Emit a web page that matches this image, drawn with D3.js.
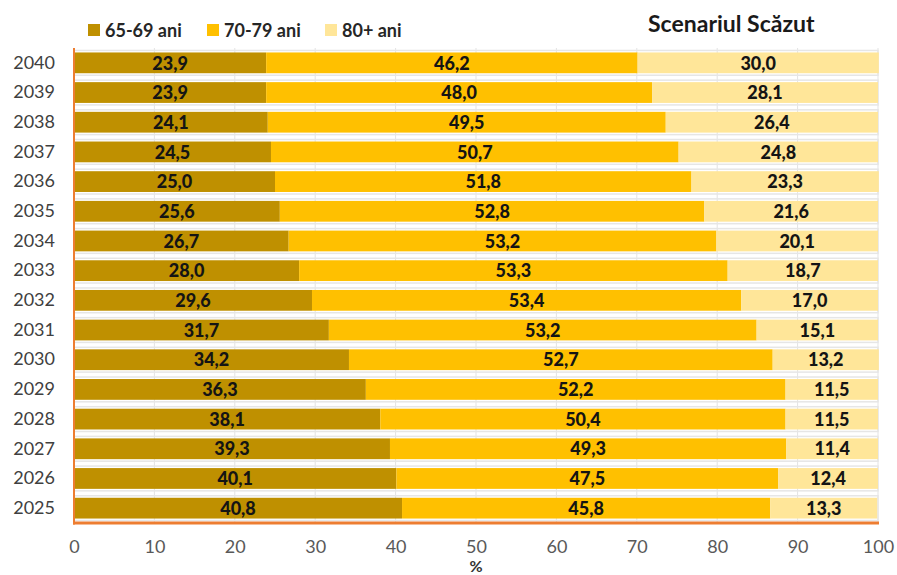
<!DOCTYPE html>
<html>
<head>
<meta charset="utf-8">
<script src="https://cdn.jsdelivr.net/npm/d3@7"></script>
<style>
  body { margin: 0; background: #fff; }
  svg { font-family: Lato, "Open Sans", sans-serif; }
</style>
</head>
<body>
<svg id="chart" width="897" height="575"></svg>
<script>
"use strict"
// Age structure of the 65+ population, low scenario, 2025-2040

var years = ["2040","2039","2038","2037","2036","2035","2034","2033",
             "2032","2031","2030","2029","2028","2027","2026","2025"];
var ani6569 = [23.9,23.9,24.1,24.5,25.0,25.6,26.7,28.0,29.6,31.7,34.2,36.3,38.1,39.3,40.1,40.8];
var ani7079 = [46.2,48.0,49.5,50.7,51.8,52.8,53.2,53.3,53.4,53.2,52.7,52.2,50.4,49.3,47.5,45.8];
var ani80   = [30.0,28.1,26.4,24.8,23.3,21.6,20.1,18.7,17.0,15.1,13.2,11.5,11.5,11.4,12.4,13.3];
var seriesNames = ["65-69 ani", "70-79 ani", "80+ ani"];
var xTicks = [0,10,20,30,40,50,60,70,80,90,100];
var title = "Scenariul Scăzut";

var colors = ["#BF9000", "#FFC000", "#FFE699"];

var svg = d3.select("svg#chart"),
    pLeft = 74, pRight = 878, pTop = 48, pBottom = 523;

var rows = years.map(function(y, i) {
  return { year: y, a: ani6569[i], b: ani7079[i], c: ani80[i] };
});
var stack = d3.stack().keys(["a","b","c"])(rows);

var x = d3.scaleLinear().domain([0,100]).range([pLeft, pRight]);
var y = d3.scaleBand().domain(years).range([pTop, pBottom]).paddingInner(0.3).paddingOuter(0.15);

// vertical gridlines
svg.append("g")
  .selectAll("line")
  .data(xTicks.slice(1))
  .enter().append("line")
    .attr("x1", function(d){ return x(d); })
    .attr("x2", function(d){ return x(d); })
    .attr("y1", pTop).attr("y2", pBottom)
    .attr("stroke", "#e3e3e3").attr("stroke-width", 1);

// faint shadow lines around bars
svg.append("g")
  .selectAll("rect")
  .data(years)
  .enter().append("rect")
    .attr("x", pLeft)
    .attr("y", function(d){ return y(d) - 2; })
    .attr("width", pRight - pLeft)
    .attr("height", y.bandwidth() + 4)
    .attr("fill", "none")
    .attr("stroke", "#e6e6e6")
    .attr("stroke-width", 1.5);

// bars
var layers = svg.append("g").selectAll("g")
  .data(stack)
  .enter().append("g")
    .attr("fill", function(d, i){ return colors[i]; });

layers.selectAll("rect")
  .data(function(d){ return d; })
  .enter().append("rect")
    .attr("x", function(d){ return x(d[0]); })
    .attr("y", function(d){ return y(d.data.year); })
    .attr("width", function(d){ return x(d[1]) - x(d[0]); })
    .attr("height", y.bandwidth());

// value labels
layers.selectAll("text")
  .data(function(d){ return d; })
  .enter().append("text")
    .attr("x", function(d){ return (x(d[0]) + x(d[1])) / 2; })
    .attr("y", function(d){ return y(d.data.year) + y.bandwidth() / 2; })
    .attr("dy", "0.37em")
    .attr("text-anchor", "middle")
    .attr("fill", "#141414")
    .style("font-size", "18px")
    .style("font-weight", "900")
    .text(function(d){ return d3.format(".1f")(d[1] - d[0]).replace(".", ","); });

// axes
var yAxis = svg.append("g")
  .attr("transform", "translate(" + (pLeft - 19) + ",0)")
  .call(d3.axisLeft(y).tickSize(0).tickPadding(0));
yAxis.select(".domain").remove();
yAxis.selectAll("text")
  .attr("fill", "#404040")
  .style("font-size", "18px")
  .style("font-family", "Lato, sans-serif");

var xAxis = svg.append("g")
  .attr("transform", "translate(0," + pBottom + ")")
  .call(d3.axisBottom(x).tickValues(xTicks).tickSize(0).tickPadding(17));
xAxis.select(".domain").remove();
xAxis.selectAll("text")
  .attr("fill", "#595959")
  .style("font-size", "18px")
  .style("font-family", "Lato, sans-serif");

svg.append("text")
  .attr("x", (pLeft + pRight) / 2).attr("y", 572)
  .attr("text-anchor", "middle")
  .attr("fill", "#333")
  .style("font-size", "16px").style("font-weight", "bold")
  .text("%");

// orange frame lines
svg.append("line")
  .attr("x1", pLeft).attr("x2", pLeft)
  .attr("y1", pTop).attr("y2", pBottom + 1.5)
  .attr("stroke", "#ED7D31").attr("stroke-width", 2);
svg.append("line")
  .attr("x1", pLeft - 1).attr("x2", pRight + 1)
  .attr("y1", pBottom).attr("y2", pBottom)
  .attr("stroke", "#ED7D31").attr("stroke-width", 3);

// legend
var legendX = [88, 207, 325];
var legend = svg.append("g").selectAll("g")
  .data(seriesNames)
  .enter().append("g")
    .attr("transform", function(d, i){ return "translate(" + legendX[i] + ",24)"; });
legend.append("rect")
  .attr("width", 12).attr("height", 12)
  .attr("fill", function(d, i){ return colors[i]; });
legend.append("text")
  .attr("x", 17).attr("y", 12.5)
  .attr("fill", "#262626")
  .style("font-size", "18px").style("font-weight", "bold")
  .text(function(d){ return d; });

// title
svg.append("text")
  .attr("x", 648).attr("y", 32)
  .attr("fill", "#1a1a1a")
  .style("font-size", "23px").style("font-weight", "bold")
  .text(title);
</script>
</body>
</html>
